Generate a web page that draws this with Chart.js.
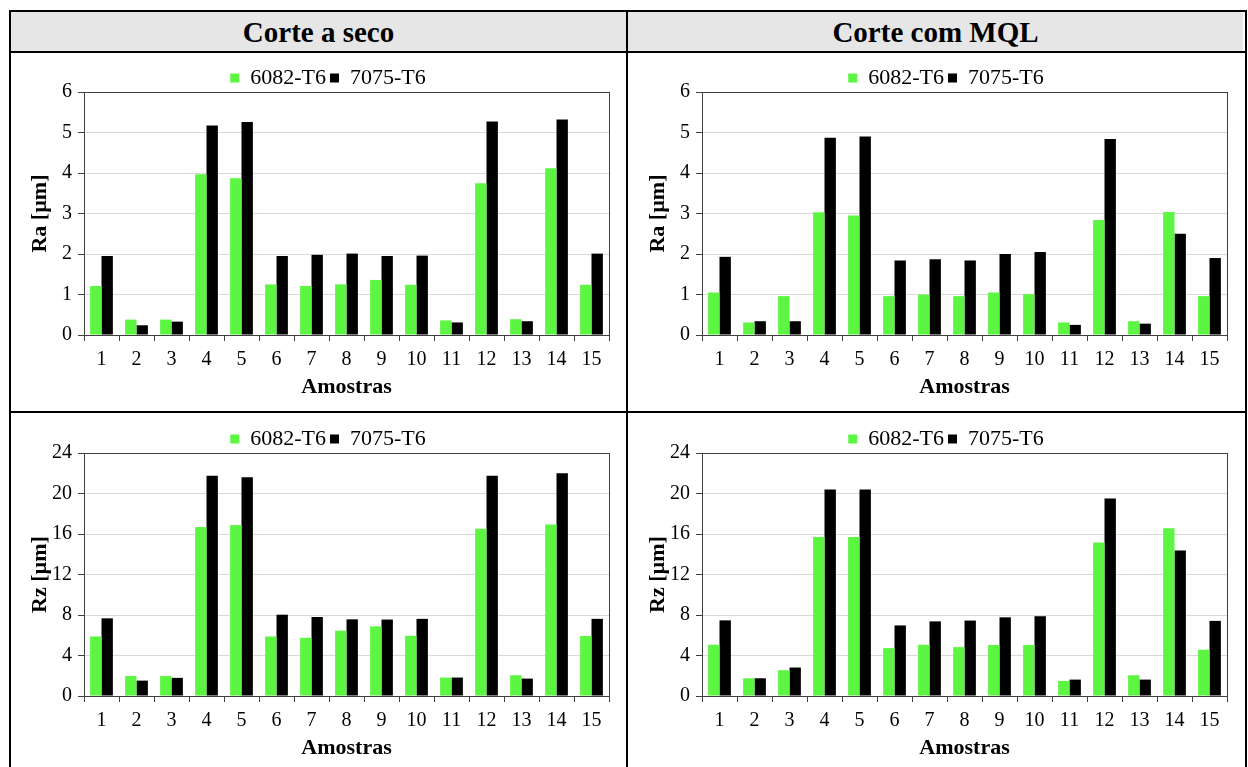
<!DOCTYPE html>
<html>
<head>
<meta charset="utf-8">
<script src="https://cdn.jsdelivr.net/npm/chart.js@4/dist/chart.umd.min.js"></script>
<style>
  body { margin: 0; background: #fff; font-family: 'Liberation Serif', serif; }
  .frame { position: absolute; left: 9px; top: 10px; width: 1234px; height: 780px; border: 2px solid #000; }
  .head { position: absolute; top: 12px; height: 40px; background: #e6e6e6; font: bold 29px 'Liberation Serif', serif;
          text-align: center; line-height: 40px; color: #000; }
  .hline { position: absolute; left: 9px; width: 1238px; height: 2px; background: #000; }
  .vline { position: absolute; left: 626px; top: 10px; width: 2px; height: 780px; background: #000; }
  canvas { position: absolute; }
</style>
</head>
<body>
<div class="frame"></div>
<div class="head" style="left:11px;width:615px;">Corte a seco</div>
<div class="head" style="left:628px;width:615px;">Corte com MQL</div>
<div class="hline" style="top:51px;"></div>
<div class="hline" style="top:411px;"></div>
<div class="vline"></div>

<div style="position:absolute;left:11px;top:54px;width:614px;height:356px;"><canvas id="raSeco"></canvas></div>
<div style="position:absolute;left:629px;top:54px;width:614px;height:356px;"><canvas id="raMql"></canvas></div>
<div style="position:absolute;left:11px;top:415px;width:614px;height:356px;"><canvas id="rzSeco"></canvas></div>
<div style="position:absolute;left:629px;top:415px;width:614px;height:356px;"><canvas id="rzMql"></canvas></div>

<script>
'use strict';

const categories = ['1', '2', '3', '4', '5', '6', '7', '8', '9', '10', '11', '12', '13', '14', '15'];
const seriesNames = ['6082-T6', '7075-T6'];

// Ra [µm]
const raSeco6082 = [1.21, 0.38, 0.38, 3.97, 3.87, 1.25, 1.21, 1.25, 1.36, 1.24, 0.36, 3.75, 0.39, 4.12, 1.24];
const raSeco7075 = [1.95, 0.24, 0.33, 5.17, 5.26, 1.95, 1.98, 2.01, 1.95, 1.96, 0.31, 5.27, 0.34, 5.32, 2.01];
const raMql6082 = [1.05, 0.31, 0.96, 3.03, 2.95, 0.96, 1.00, 0.96, 1.05, 1.01, 0.31, 2.84, 0.34, 3.04, 0.96];
const raMql7075 = [1.93, 0.34, 0.34, 4.87, 4.90, 1.84, 1.87, 1.84, 2.00, 2.05, 0.25, 4.84, 0.28, 2.50, 1.90];

// Rz [µm]
const rzSeco6082 = [5.88, 1.98, 1.98, 16.7, 16.9, 5.88, 5.75, 6.45, 6.88, 5.95, 1.82, 16.52, 2.05, 16.95, 5.93];
const rzSeco7075 = [7.67, 1.52, 1.79, 21.75, 21.6, 8.03, 7.8, 7.57, 7.55, 7.62, 1.82, 21.75, 1.72, 21.99, 7.62];
const rzMql6082 = [5.06, 1.75, 2.55, 15.7, 15.7, 4.73, 5.06, 4.83, 5.04, 5.04, 1.49, 15.17, 2.05, 16.56, 4.57];
const rzMql7075 = [7.47, 1.75, 2.81, 20.4, 20.4, 6.97, 7.37, 7.45, 7.77, 7.88, 1.62, 19.5, 1.62, 14.37, 7.42];

// y axis ranges
const raMax = 6, raStep = 1;
const rzMax = 24, rzStep = 4;

Chart.defaults.font.family = "'Liberation Serif', serif";
Chart.defaults.color = '#000';

// box around the plot area (top + right sides too)
const plotBox = {
  id: 'plotBox',
  afterDatasetsDraw(chart) {
    const { ctx, chartArea: a } = chart;
    ctx.save();
    ctx.strokeStyle = '#404040';
    ctx.lineWidth = 1;
    ctx.strokeRect(Math.round(a.left) + 0.5, Math.round(a.top) + 0.5,
      Math.round(a.right - a.left), Math.round(a.bottom - a.top));
    ctx.restore();
  }
};

// nudge the legend a bit lower / to the right without moving the plot
const legendNudge = {
  id: 'legendNudge',
  afterLayout(chart) {
    const lg = chart.legend;
    if (!lg) return;
    lg.top += 7; lg.bottom += 7;
    lg.left += 8; lg.right += 8;
  }
};

function makeChart(id, values1, values2, yTitle, yMax, yStep) {
  const ctx = document.getElementById(id).getContext('2d');
  return new Chart(ctx, {
    type: 'bar',
    data: {
      labels: categories,
      datasets: [
        { label: seriesNames[0], data: values1, backgroundColor: '#5cf542' },
        { label: seriesNames[1], data: values2, backgroundColor: '#000000' }
      ]
    },
    options: {
      responsive: true,
      maintainAspectRatio: false,
      animation: false,
      datasets: {
        bar: { categoryPercentage: 0.65, barPercentage: 1.0 }
      },
      layout: { padding: { left: 20, right: 16, top: 2, bottom: 0 } },
      plugins: {
        legend: {
          display: true,
          labels: { boxWidth: 9, boxHeight: 9, padding: 4, font: { size: 22 }, color: '#000' }
        },
        tooltip: { enabled: false }
      },
      scales: {
        x: {
          grid: { drawOnChartArea: false, tickLength: 6, tickColor: '#404040', offset: true },
          border: { color: '#404040' },
          ticks: { font: { size: 20 }, padding: 7, maxRotation: 0, autoSkip: false },
          title: { display: true, text: 'Amostras', font: { size: 22, weight: 'bold' }, padding: { top: 0, bottom: 9 } },
          afterFit: (scale) => { scale.height = 75; }
        },
        y: {
          min: 0,
          max: yMax,
          grid: { color: '#d9d9d9', tickLength: 6, tickColor: '#404040' },
          border: { color: '#404040' },
          ticks: { stepSize: yStep, font: { size: 20 }, padding: 6 },
          title: { display: true, text: yTitle, font: { size: 22, weight: 'bold' }, padding: { top: -4, bottom: 0 } },
          afterFit: (scale) => { scale.width = 53; }
        }
      }
    },
    plugins: [plotBox, legendNudge]
  });
}

makeChart('raSeco', raSeco6082, raSeco7075, 'Ra [µm]', raMax, raStep);
makeChart('raMql', raMql6082, raMql7075, 'Ra [µm]', raMax, raStep);
makeChart('rzSeco', rzSeco6082, rzSeco7075, 'Rz [µm]', rzMax, rzStep);
makeChart('rzMql', rzMql6082, rzMql7075, 'Rz [µm]', rzMax, rzStep);
</script>
</body>
</html>
